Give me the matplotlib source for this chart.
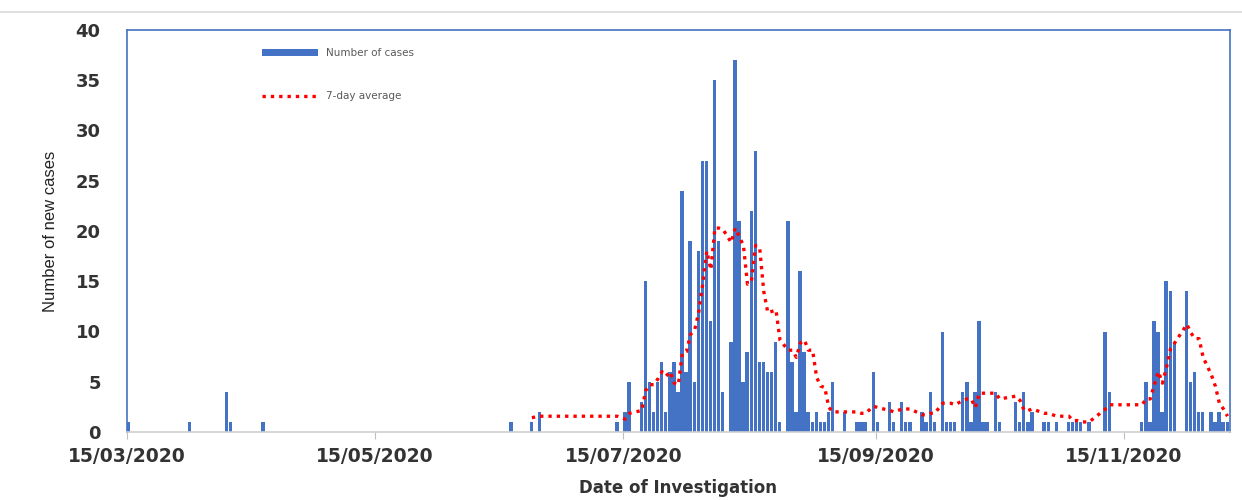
import matplotlib
matplotlib.use("Agg")
import matplotlib.pyplot as plt
from matplotlib.lines import Line2D
import pandas as pd

# dates with at least one new case (one bar each)
case_dates = [
    "2020-03-15", "2020-03-30", "2020-04-08", "2020-04-09", "2020-04-17",
    "2020-06-17", "2020-06-22", "2020-06-24", "2020-07-13", "2020-07-15",
    "2020-07-16", "2020-07-19", "2020-07-20", "2020-07-21", "2020-07-22",
    "2020-07-23", "2020-07-24", "2020-07-25", "2020-07-26", "2020-07-27",
    "2020-07-28", "2020-07-29", "2020-07-30", "2020-07-31", "2020-08-01",
    "2020-08-02", "2020-08-03", "2020-08-04", "2020-08-05", "2020-08-06",
    "2020-08-07", "2020-08-08", "2020-08-10", "2020-08-11", "2020-08-12",
    "2020-08-13", "2020-08-14", "2020-08-15", "2020-08-16", "2020-08-17",
    "2020-08-18", "2020-08-19", "2020-08-20", "2020-08-21", "2020-08-22",
    "2020-08-24", "2020-08-25", "2020-08-26", "2020-08-27", "2020-08-28",
    "2020-08-29", "2020-08-30", "2020-08-31", "2020-09-01", "2020-09-02",
    "2020-09-03", "2020-09-04", "2020-09-07", "2020-09-10", "2020-09-11",
    "2020-09-12", "2020-09-14", "2020-09-15", "2020-09-18", "2020-09-19",
    "2020-09-21", "2020-09-22", "2020-09-23", "2020-09-26", "2020-09-27",
    "2020-09-28", "2020-09-29", "2020-10-01", "2020-10-02", "2020-10-03",
    "2020-10-04", "2020-10-06", "2020-10-07", "2020-10-08", "2020-10-09",
    "2020-10-10", "2020-10-11", "2020-10-12", "2020-10-14", "2020-10-15",
    "2020-10-19", "2020-10-20", "2020-10-21", "2020-10-22", "2020-10-23",
    "2020-10-26", "2020-10-27", "2020-10-29", "2020-11-01", "2020-11-02",
    "2020-11-03", "2020-11-04", "2020-11-06", "2020-11-10", "2020-11-11",
    "2020-11-19", "2020-11-20", "2020-11-21", "2020-11-22", "2020-11-23",
    "2020-11-24", "2020-11-25", "2020-11-26", "2020-11-27", "2020-11-30",
    "2020-12-01", "2020-12-02", "2020-12-03", "2020-12-04", "2020-12-06",
    "2020-12-07", "2020-12-08", "2020-12-09", "2020-12-10",
]

new_cases = [
    1, 1, 4, 1, 1, 1, 1, 2, 1, 2,
    5, 3, 15, 5, 2, 5, 7, 2, 6, 7,
    4, 24, 6, 19, 5, 18, 27, 27, 11, 35,
    19, 4, 9, 37, 21, 5, 8, 22, 28, 7,
    7, 6, 6, 9, 1, 21, 7, 2, 16, 8,
    2, 1, 2, 1, 1, 2, 5, 2, 1, 1,
    1, 6, 1, 3, 1, 3, 1, 1, 2, 1,
    4, 1, 10, 1, 1, 1, 4, 5, 1, 4,
    11, 1, 1, 4, 1, 3, 1, 4, 1, 2,
    1, 1, 1, 1, 1, 1, 1, 1, 10, 4,
    1, 5, 1, 11, 10, 2, 15, 14, 9, 14,
    5, 6, 2, 2, 2, 1, 2, 1, 1,
]

# 7-day average (starts at the 7th case date)
avg_dates = case_dates[6:]
avg_7day = [
    1.43, 1.57, 1.57, 1.29, 1.86, 2.14, 4.14, 4.71, 4.71, 5.29,
    6.0, 5.57, 6.0, 4.86, 4.71, 7.86, 8.0, 9.71, 10.14, 11.86,
    14.71, 18.0, 16.14, 20.29, 20.29, 20.14, 18.86, 20.29, 19.43, 18.57,
    14.71, 15.14, 18.57, 18.29, 14.0, 11.86, 12.0, 12.14, 9.14, 8.14,
    8.14, 7.43, 8.86, 9.14, 8.14, 8.14, 5.43, 4.57, 4.43, 2.43,
    2.0, 2.0, 2.0, 1.86, 1.86, 2.57, 2.43, 2.14, 2.0, 2.29,
    2.29, 2.29, 1.71, 1.71, 1.86, 1.86, 2.86, 2.86, 2.86, 2.71,
    3.14, 3.29, 3.29, 2.43, 3.86, 3.86, 3.86, 3.86, 3.29, 3.57,
    3.14, 2.14, 2.14, 2.29, 1.86, 1.86, 1.57, 1.57, 1.14, 1.14,
    1.0, 1.0, 2.29, 2.71, 2.71, 3.29, 3.29, 4.71, 6.0, 4.86,
    6.43, 8.29, 8.86, 10.71, 9.86, 9.29, 9.29, 7.43, 5.71, 4.57,
    2.86, 2.29, 1.57,
]

tick_dates = ["2020-03-15", "2020-05-15", "2020-07-15",
              "2020-09-15", "2020-11-15"]
x_range = ["2020-03-15", "2020-12-11"]
y_ticks = [0, 5, 10, 15, 20, 25, 30, 35, 40]

BLUE = "#4472C4"
RED = "#FF0000"


def plot_cases():
    """
    draws the daily bars plus the dotted 7-day average
    """
    fig = plt.figure(figsize=(12.42, 5.0), dpi=100)
    ax = fig.add_axes([0.1023, 0.136, 0.8877, 0.804])

    bar_x = pd.to_datetime(case_dates)
    bars = ax.bar(bar_x, new_cases, width=0.83, align="edge", color=BLUE,
                  label="Number of cases", zorder=2)

    # points sit in the middle of each bar
    line_x = pd.to_datetime(avg_dates) + pd.Timedelta(hours=12)
    line, = ax.plot(line_x, avg_7day, color=RED, linewidth=2.4,
                    linestyle=(0, (1, 1.5)), label="7-day average", zorder=3)

    ax.set_xlim(pd.to_datetime(x_range[0]), pd.to_datetime(x_range[1]))
    ax.set_ylim(0, 40)

    ticks = pd.to_datetime(tick_dates)
    ax.set_xticks(ticks)
    ax.set_xticklabels([t.strftime("%d/%m/%Y") for t in ticks],
                       fontsize=13.5, fontweight="bold", color="#333333")
    ax.set_yticks(y_ticks)
    ax.set_yticklabels([str(v) for v in y_ticks], fontsize=13,
                       fontweight="bold", color="#333333")
    ax.tick_params(axis="x", length=5, color="#BFBFBF", pad=6)
    ax.tick_params(axis="y", length=0, pad=19)

    # blue frame, grey axis line at the bottom
    for side in ["left", "top", "right"]:
        ax.spines[side].set_color(BLUE)
        ax.spines[side].set_linewidth(1.2)
    ax.spines["bottom"].set_color("#D0D0D0")
    ax.spines["bottom"].set_linewidth(1.2)

    ax.set_xlabel("Date of Investigation", fontsize=12, fontweight="bold",
                  color="#333333", labelpad=9)
    ax.set_ylabel("Number of new cases", fontsize=12,
                  family="Liberation Sans", color="#222222", labelpad=13)

    leg = ax.legend([bars, line], ["Number of cases", "7-day average"],
                    loc="upper left", bbox_to_anchor=(0.122, 0.955),
                    frameon=False, fontsize=7.5, handlelength=5.4,
                    handleheight=0.6, handletextpad=0.75, labelspacing=3.2,
                    borderaxespad=0, borderpad=0)
    for txt in leg.get_texts():
        txt.set_color("#595959")

    # thin grey border line of the chart area at the very top
    fig.add_artist(Line2D([0, 1], [0.976, 0.976], color="#D9D9D9",
                          linewidth=1.2, transform=fig.transFigure))

    fig.savefig("out.png", dpi=100)


def main():
    plot_cases()


if __name__ == "__main__":
    main()
